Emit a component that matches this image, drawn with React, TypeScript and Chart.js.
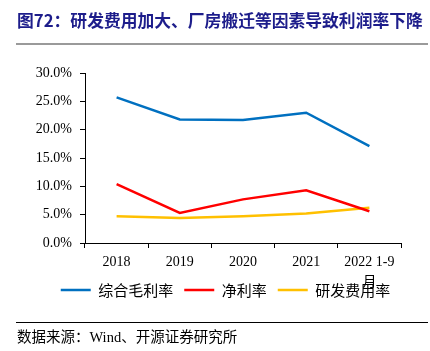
import React, { useEffect, useRef } from 'react';
import { Chart, registerables } from 'chart.js';

Chart.register(...registerables);

const categories: (string | string[])[] = ['2018', '2019', '2020', '2021', ['2022 1-9', '月']];
const grossMargin = [25.7, 21.8, 21.7, 23.0, 17.1];
const netMargin = [10.4, 5.3, 7.7, 9.3, 5.6];
const rdRatio = [4.7, 4.4, 4.7, 5.2, 6.2];
const seriesNames = ['综合毛利率', '净利率', '研发费用率'];
const yMin = 0;
const yMax = 30;
const yStep = 5;

const titleText = '图72：研发费用加大、厂房搬迁等因素导致利润率下降';
const sourceText = '数据来源：Wind、开源证券研究所';

const legendShift = {
  id: 'legendShift',
  afterLayout(chart: any) {
    const l = chart.legend;
    if (!l) return;
    l.left += 25;
    l.right += 25;
    l.top -= 21.5;
    l.bottom -= 21.5;
  },
};

export default function App() {
  const ref = useRef<HTMLCanvasElement | null>(null);

  useEffect(() => {
    if (!ref.current) return;
    const chart = new Chart(ref.current, {
      type: 'line',
      data: {
        labels: categories,
        datasets: [
          { label: seriesNames[0], data: grossMargin, borderColor: '#0070C0', backgroundColor: '#0070C0', borderWidth: 2.5, pointRadius: 0, tension: 0 },
          { label: seriesNames[1], data: netMargin, borderColor: '#FF0000', backgroundColor: '#FF0000', borderWidth: 2.5, pointRadius: 0, tension: 0 },
          { label: seriesNames[2], data: rdRatio, borderColor: '#FFC000', backgroundColor: '#FFC000', borderWidth: 2.5, pointRadius: 0, tension: 0 },
        ],
      },
      plugins: [legendShift],
      options: {
        responsive: false,
        animation: false,
        devicePixelRatio: 1,
        layout: { padding: { left: 0, right: 29, top: 73, bottom: 22 } },
        plugins: {
          tooltip: { enabled: false },
          legend: {
            position: 'bottom',
            labels: {
              usePointStyle: true,
              pointStyle: 'line',
              pointStyleWidth: 30,
              boxHeight: 15,
              padding: 11,
              color: '#000',
              font: { family: '"Noto Sans CJK SC"', size: 15 },
            },
          },
        },
        scales: {
          x: {
            offset: true,
            grid: { offset: true, drawOnChartArea: false, drawTicks: true, tickLength: 5, color: '#000' },
            border: { display: true, color: '#000', width: 1 },
            ticks: {
              color: '#000',
              padding: 4,
              maxRotation: 0,
              autoSkip: false,
              font: { family: '"Liberation Serif", "Noto Sans CJK SC"', size: 14, lineHeight: 20 / 14 },
            },
            afterFit: (s: any) => { s.height = 50; },
          },
          y: {
            min: yMin,
            max: yMax,
            grid: { drawOnChartArea: false, drawTicks: true, tickLength: 5, color: '#000' },
            border: { display: true, color: '#000', width: 1 },
            ticks: {
              stepSize: yStep,
              color: '#000',
              padding: 8,
              font: { family: '"Liberation Serif"', size: 14 },
              callback: (v: any) => Number(v).toFixed(1) + '%',
            },
            afterFit: (s: any) => { s.width = 85; },
          },
        },
      },
    });
    return () => chart.destroy();
  }, []);

  return (
    <div style={{ position: 'absolute', left: 0, top: 0, width: 430, height: 351, background: '#fff', overflow: 'hidden' }}>
      <canvas ref={ref} width={430} height={351} style={{ position: 'absolute', left: 0, top: 0, width: 430, height: 351 }} />
      <div style={{ position: 'absolute', left: 17, top: 9, height: 22, lineHeight: '22px', fontFamily: '"Noto Sans CJK SC"', fontWeight: 'bold', fontSize: 16.8, color: '#1d1d8b', whiteSpace: 'nowrap' }}>{titleText}</div>
      <div style={{ position: 'absolute', left: 16, top: 43, width: 412, height: 2, background: '#9a9a9a' }} />
      <div style={{ position: 'absolute', left: 16, top: 322, width: 412, height: 1, background: '#000' }} />
      <div style={{ position: 'absolute', left: 17, top: 329, height: 16, lineHeight: '16px', fontFamily: '"Liberation Serif", "Noto Sans CJK SC"', fontSize: 14.5, color: '#000', whiteSpace: 'nowrap' }}>{sourceText}</div>
    </div>
  );
}
